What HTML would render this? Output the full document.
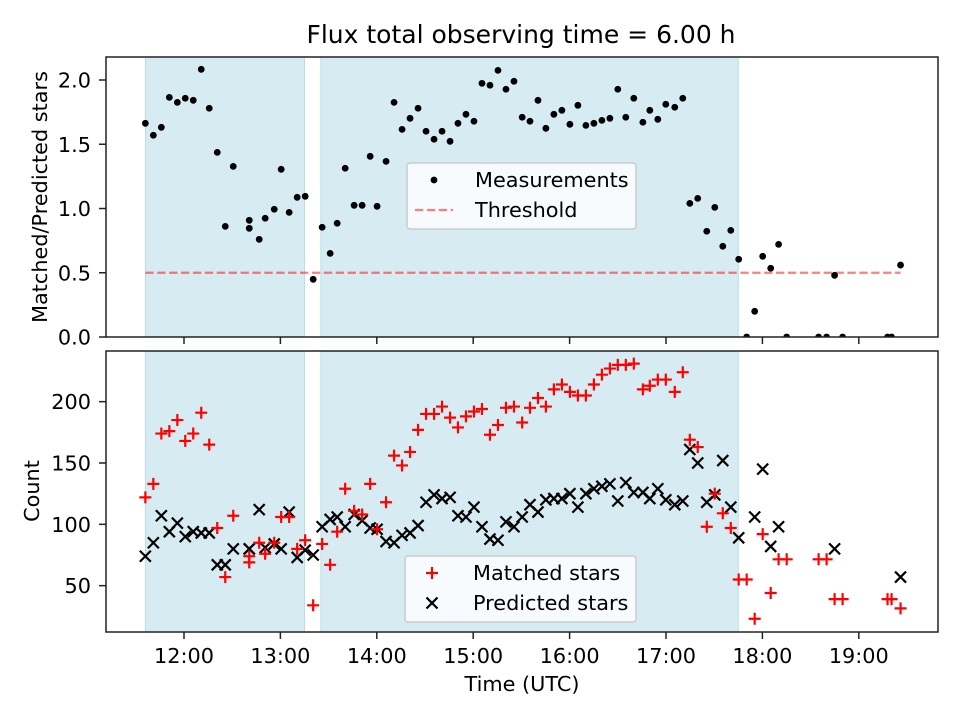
<!DOCTYPE html>
<html><head><meta charset="utf-8"><style>
html,body{margin:0;padding:0;background:#fff}
svg{display:block;font-family:"DejaVu Sans","Liberation Sans",sans-serif}
</style></head><body>
<svg id="chart" width="960" height="720" viewBox="0 0 960 720"></svg>
<script>
// ---- data (times in decimal hours UTC) ----
const times = [11.599,11.682,11.765,11.848,11.931,12.013,12.096,12.179,12.262,12.345,12.428,12.511,12.677,12.677,12.780,12.842,12.936,13.008,13.091,13.174,13.257,13.340,13.433,13.516,13.589,13.672,13.765,13.848,13.931,14.003,14.096,14.179,14.262,14.345,14.428,14.511,14.594,14.677,14.760,14.842,14.925,15.008,15.091,15.174,15.257,15.340,15.423,15.508,15.589,15.672,15.754,15.837,15.920,16.003,16.086,16.169,16.252,16.335,16.418,16.500,16.583,16.666,16.760,16.832,16.915,16.998,17.091,17.174,17.247,17.329,17.423,17.506,17.589,17.672,17.754,17.837,17.920,18.003,18.086,18.168,18.252,18.583,18.666,18.749,18.832,19.298,19.340,19.433];
const ratios = [1.663,1.570,1.632,1.865,1.826,1.858,1.842,2.083,1.780,1.437,0.861,1.328,0.908,0.846,0.760,0.924,0.994,1.305,0.970,1.087,1.095,0.449,0.854,0.651,0.885,1.313,1.025,1.025,1.406,1.017,1.367,1.826,1.616,1.702,1.780,1.601,1.539,1.601,1.523,1.663,1.733,1.679,1.974,1.959,2.075,1.928,1.990,1.710,1.679,1.842,1.624,1.733,1.764,1.655,1.803,1.647,1.663,1.686,1.702,1.928,1.710,1.858,1.671,1.764,1.694,1.811,1.788,1.858,1.040,1.079,0.823,1.009,0.706,0.830,0.605,0,0.200,0.628,0.535,0.721,0,0,0,0.480,0,0,0,0.560];
const matched = [122,133,174,176,185,168,174,191,165,97,57,107,74,69,85,76,85,106,106,80,87,34,84,67,94,129,111,108,133,96,118,156,148,159,177,190,190,196,187,179,188,192,194,173,181,195,196,183,195,203,196,210,214,208,205,205,214,222,227,230,230,231,210,213,218,218,208,224,169,163,98,125,109,97,55,55,23,92,44,71.5,71.5,71.5,71.5,39,39,39,39,31.5];
const predicted = [74,85,107,94,101,90,94,93,93,67,67,80,80,80,112,81,84,80,110,73,79,75,98,104,106,98,108,103,97,96,86,85,91,93,99,118,124,121,122,107,106,114,98,88,87,102,98,106,116,110,120,121,121,125,114,125,129,131,133,119,134,126,126,121,129,120,116,119,161,150,118,124,152,114,89,null,106,145,82,98,null,null,null,80,null,null,null,57];
const threshold = 0.5;
const thresholdRange = [11.599,19.433];
const spans = [[11.6,13.25],[13.42,17.75]];
const xTicks = [12,13,14,15,16,17,18,19];
const xTickLabels = ["12:00","13:00","14:00","15:00","16:00","17:00","18:00","19:00"];
const topTicks = [0,0.5,1.0,1.5,2.0];
const topTickLabels = ["0.0","0.5","1.0","1.5","2.0"];
const botTicks = [50,100,150,200];
const botTickLabels = ["50","100","150","200"];

// ---- layout ----
const L=106,R=938,T1=57,B1=337,T2=351,B2=632;
const FS=20.8;
const X = h => 184 + (h-12)*96.4;
const Y1 = v => 337 - v*128.5;
const Y2 = v => 647 - v*1.2267;
const NS="http://www.w3.org/2000/svg";
const svg=document.getElementById('chart');
function mk(tag,attrs,parent){const e=document.createElementNS(NS,tag);for(const k in attrs)e.setAttribute(k,attrs[k]);(parent||svg).appendChild(e);return e;}

function panel(top,bottom,name){
  const g=mk('g',{});
  
  
  mk('defs',{},g).innerHTML='<clipPath id="clip-'+name+'"><rect x="'+L+'" y="'+top+'" width="'+(R-L)+'" height="'+(bottom-top)+'"/></clipPath>';
  spans.forEach(s=>{
    const r=mk('rect',{x:X(s[0]),y:top,width:X(s[1])-X(s[0]),height:bottom-top,fill:'#add8e6','fill-opacity':0.5,stroke:'#add8e6','stroke-opacity':0.8},g);
    
    
  });
  return g;
}
function frame(top,bottom,g){
  const r=mk('rect',{x:L,y:top,width:R-L,height:bottom-top,fill:'none',stroke:'#222','stroke-width':1.5},g);
  
  
}
function xticks(bottom,g,labels){
  xTicks.forEach((t,i)=>{
    mk('line',{x1:X(t),x2:X(t),y1:bottom,y2:bottom+7,stroke:'#222','stroke-width':1.5},g);
    if(labels){const tx=mk('text',{x:X(t),y:bottom+31,'text-anchor':'middle','font-size':FS},g);tx.textContent=xTickLabels[i];
      
      }
  });
}
function yticks(ticks,labs,Y,g){
  ticks.forEach((t,i)=>{
    mk('line',{x1:L-7,x2:L,y1:Y(t),y2:Y(t),stroke:'#222','stroke-width':1.5},g);
    const tx=mk('text',{x:L-15,y:Y(t)+7.5,'text-anchor':'end','font-size':FS},g);tx.textContent=labs[i];
    
    
  });
}

// top panel
const g1=panel(T1,B1,'ratio-panel');
const th=mk('line',{x1:X(thresholdRange[0]),x2:X(thresholdRange[1]),y1:Y1(threshold),y2:Y1(threshold),stroke:'#ff0000','stroke-opacity':0.5,'stroke-width':2.2,'stroke-dasharray':'8.3,3.6'},g1);


const pts=mk('g',{'clip-path':'url(#clip-ratio-panel)'},g1);
times.forEach((t,i)=>{
  if(ratios[i]==null)return;
  const c=mk('circle',{cx:X(t),cy:Y1(ratios[i]),r:3.4,fill:'#000'},pts);
  
  
});
frame(T1,B1,g1);xticks(B1,g1,false);yticks(topTicks,topTickLabels,Y1,g1);

// bottom panel
const g2=panel(T2,B2,'count-panel');
const pts2=mk('g',{'clip-path':'url(#clip-count-panel)'},g2);
times.forEach((t,i)=>{
  if(predicted[i]!=null){
    const x=X(t),y=Y2(predicted[i]),s=5.5;
    const p=mk('path',{d:`M${x-s},${y-s}L${x+s},${y+s}M${x-s},${y+s}L${x+s},${y-s}`,stroke:'#000','stroke-width':2.2,fill:'none'},pts2);
    
    
  }
});
times.forEach((t,i)=>{
  if(matched[i]!=null){
    const x=X(t),y=Y2(matched[i]),s=6;
    const p=mk('path',{d:`M${x-s},${y}L${x+s},${y}M${x},${y-s}L${x},${y+s}`,stroke:'#ff0000','stroke-width':2.2,fill:'none'},pts2);
    
    
  }
});
frame(T2,B2,g2);xticks(B2,g2,true);yticks(botTicks,botTickLabels,Y2,g2);

// legends
function legend(x,y,w,h,items,name){
  const g=mk('g',{});
  
  
  mk('rect',{x:x,y:y,width:w,height:h,rx:3,fill:'#fff','fill-opacity':0.8,stroke:'#cccccc','stroke-width':1.5},g);
  items.forEach((it,i)=>{
    const cy=y+17+i*30,sx=x+27;
    if(it.k==='dot')mk('circle',{cx:sx,cy:cy,r:3.4,fill:'#000'},g);
    if(it.k==='dash')mk('line',{x1:sx-19,x2:sx+19,y1:cy,y2:cy,stroke:'#ff0000','stroke-opacity':0.5,'stroke-width':2.2,'stroke-dasharray':'8.3,3.6'},g);
    if(it.k==='plus')mk('path',{d:`M${sx-6},${cy}L${sx+6},${cy}M${sx},${cy-6}L${sx},${cy+6}`,stroke:'#ff0000','stroke-width':2.2},g);
    if(it.k==='x')mk('path',{d:`M${sx-5.5},${cy-5.5}L${sx+5.5},${cy+5.5}M${sx-5.5},${cy+5.5}L${sx+5.5},${cy-5.5}`,stroke:'#000','stroke-width':2.2},g);
    const tx=mk('text',{x:x+68,y:cy+7,'font-size':FS},g);tx.textContent=it.t;
    
    
  });
}
legend(407,163,229,66,[{k:'dot',t:'Measurements'},{k:'dash',t:'Threshold'}],'ratio-legend');
legend(405,556,231,66,[{k:'plus',t:'Matched stars'},{k:'x',t:'Predicted stars'}],'count-legend');

// titles
function txt(s,attrs,name){const t=mk('text',attrs);t.textContent=s;
  
  return t;}
txt('Flux total observing time = 6.00 h',{x:521,y:43,'text-anchor':'middle','font-size':25},'chart-title');
txt('Time (UTC)',{x:522,y:691,'text-anchor':'middle','font-size':FS},'x-axis-title');
txt('Matched/Predicted stars',{x:0,y:0,'text-anchor':'middle','font-size':FS,transform:'translate(47,197) rotate(-90)'},'top-y-axis-title');
txt('Count',{x:0,y:0,'text-anchor':'middle','font-size':FS,transform:'translate(39,491) rotate(-90)'},'bottom-y-axis-title');
</script>
</body></html>
